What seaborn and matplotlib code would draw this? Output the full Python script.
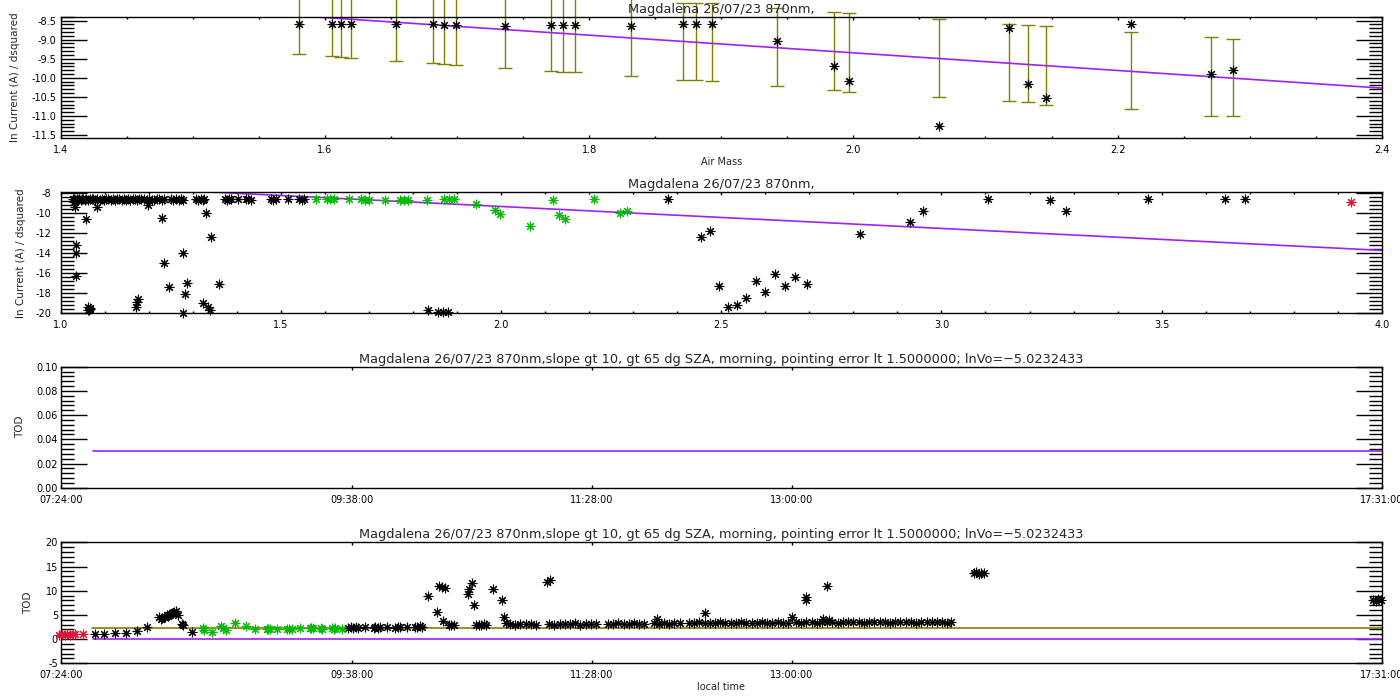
import pandas as pd
import seaborn as sns
import matplotlib.pyplot as plt
from matplotlib.ticker import MultipleLocator, FormatStrFormatter, FixedLocator

# ---------------- data ----------------
# selected points (green in panel 2), with error bars in panel 1
am_sel = [1.580, 1.605, 1.612, 1.620, 1.654, 1.682, 1.690, 1.699, 1.736, 1.771,
          1.780, 1.789, 1.832, 1.871, 1.881, 1.893, 1.942, 1.985, 1.997, 2.065,
          2.118, 2.132, 2.146, 2.210, 2.271, 2.287]
lnI_sel = [-8.59, -8.59, -8.59, -8.59, -8.59, -8.59, -8.61, -8.61, -8.64, -8.61,
           -8.61, -8.61, -8.64, -8.59, -8.59, -8.59, -9.03, -9.69, -10.08, -11.26,
           -8.70, -10.17, -10.54, -8.59, -9.91, -9.80]
err_lo = [-9.38, -9.44, -9.46, -9.49, -9.57, -9.62, -9.65, -9.67, -9.75, -9.83,
          -9.86, -9.86, -9.96, -10.07, -10.07, -10.08, -10.22, -10.33, -10.36, -10.51,
          -10.62, -10.64, -10.70, -10.83, -10.99, -11.01]
err_hi = [-7.33, -7.39, -7.41, -7.44, -7.52, -7.57, -7.60, -7.62, -7.70, -7.78,
          -7.81, -7.81, -7.91, -8.03, -8.03, -8.03, -8.18, -8.28, -8.31, -8.47,
          -8.60, -8.62, -8.65, -8.81, -8.94, -8.99]
fit1_am = [1.596, 2.400]
fit1_ln = [-8.41, -10.27]

# all other points of the day (black in panel 2)
all_am = [1.027, 1.030, 1.033, 1.036, 1.039, 1.042, 1.045, 1.048, 1.051, 1.054,
          1.058, 1.062, 1.066, 1.070, 1.074, 1.078, 1.083, 1.088, 1.093, 1.098,
          1.103, 1.108, 1.113, 1.118, 1.123, 1.128, 1.133, 1.138, 1.143, 1.148,
          1.153, 1.158, 1.163, 1.168, 1.173, 1.178, 1.182, 1.190, 1.196, 1.201,
          1.207, 1.212, 1.218, 1.224, 1.229, 1.234, 1.250, 1.256, 1.262, 1.268,
          1.273, 1.277, 1.307, 1.312, 1.318, 1.322, 1.326, 1.372, 1.377, 1.382,
          1.387, 1.402, 1.421, 1.426, 1.432, 1.478, 1.483, 1.489, 1.516, 1.542,
          1.547, 1.553,
          1.030, 1.032, 1.034, 1.034, 1.034, 1.057, 1.062, 1.064, 1.067, 1.062,
          1.066, 1.082, 1.171, 1.173, 1.175, 1.197, 1.229, 1.234, 1.245, 1.277,
          1.277, 1.286, 1.282, 1.324, 1.330, 1.335, 1.339, 1.341, 1.360, 1.834,
          1.857, 1.868, 1.880, 2.380, 2.455, 2.474, 2.494, 2.515, 2.536, 2.556,
          2.579, 2.600, 2.621, 2.644, 2.667, 2.695, 2.816, 2.929, 2.957, 3.106,
          3.246, 3.283, 3.470, 3.645, 3.690]
all_ln = [-8.60, -8.52, -8.66, -8.58, -8.62, -8.55, -8.68, -8.60, -8.54, -8.63,
          -8.57, -8.65, -8.52, -8.60, -8.58, -8.64, -8.55, -8.61, -8.57, -8.66,
          -8.53, -8.60, -8.62, -8.56, -8.64, -8.58, -8.52, -8.61, -8.59, -8.65,
          -8.55, -8.62, -8.58, -8.60, -8.66, -8.54, -8.60, -8.58, -8.63, -8.55,
          -8.61, -8.66, -8.57, -8.60, -8.64, -8.56, -8.58, -8.64, -8.55, -8.62,
          -8.60, -8.66, -8.59, -8.65, -8.56, -8.62, -8.60, -8.57, -8.64, -8.60,
          -8.55, -8.52, -8.60, -8.55, -8.63, -8.58, -8.62, -8.56, -8.60, -8.57,
          -8.63, -8.60,
          -8.90, -9.40, -13.17, -13.93, -16.27, -10.60, -19.40, -19.67, -19.45, -19.70,
          -19.55, -9.40, -19.40, -18.83, -18.60, -9.17, -10.50, -14.93, -17.40, -13.93,
          -19.93, -17.00, -18.10, -18.93, -9.93, -19.40, -19.67, -12.40, -17.07, -19.67,
          -19.83, -19.83, -19.83, -8.60, -12.40, -11.80, -17.23, -19.40, -19.17, -18.50,
          -16.77, -17.83, -16.07, -17.23, -16.33, -17.07, -12.10, -10.83, -9.77, -8.60,
          -8.67, -9.73, -8.60, -8.60, -8.60]
red_am = [3.929]
red_ln = [-8.90]
fit2_am = [1.36, 4.00]
fit2_ln = [-7.90, -13.70]

# TOD against local time (decimal hours)
red_t = [7.39, 7.41, 7.43, 7.45, 7.47, 7.49, 7.51, 7.57]
red_tod = [0.9, 1.1, 0.8, 1.0, 0.9, 1.1, 1.0, 1.0]
grn_t = [8.488, 8.500, 8.557, 8.625, 8.640, 8.666, 8.735, 8.819, 8.888, 8.978,
         8.990, 9.000, 9.054, 9.136, 9.150, 9.169, 9.233, 9.305, 9.320, 9.335,
         9.391, 9.400, 9.476, 9.490, 9.501, 9.552]
grn_tod = [2.22, 1.90, 1.54, 2.71, 2.40, 1.88, 3.25, 2.71, 2.02, 2.02,
           2.10, 2.02, 2.02, 2.02, 2.10, 2.02, 2.22, 2.22, 2.30, 2.22,
           2.22, 2.10, 2.22, 2.10, 2.22, 2.02]
blk_t = [7.663, 7.732, 7.816, 7.900, 7.982, 8.059, 8.156, 8.170, 8.179, 8.190,
         8.199, 8.210, 8.220, 8.230, 8.237, 8.250, 8.260, 8.268, 8.283, 8.300,
         8.327, 8.335, 8.403,
         9.60, 9.62, 9.64, 9.66, 9.68, 9.73, 9.795, 9.81, 9.83, 9.846,
         9.897, 9.96, 9.98, 10.00, 10.05, 10.11, 10.13, 10.15, 10.17,
         10.216, 10.28, 10.30, 10.32, 10.345, 10.33, 10.37, 10.39, 10.41,
         10.515, 10.529, 10.548, 10.564, 10.58, 10.60, 10.62, 10.64, 10.66,
         10.708, 10.778, 10.797, 10.81,
         10.84, 10.88, 10.92, 10.96, 11.00, 11.04,
         11.127, 11.147, 11.14, 11.18, 11.22, 11.26, 11.30, 11.34, 11.38, 11.42,
         11.46, 11.50, 11.59, 11.63, 11.67, 11.71, 11.75, 11.79, 11.83, 11.87,
         11.966, 11.94, 11.98, 12.02, 12.06, 12.10, 12.14,
         12.336, 12.21, 12.25, 12.29, 12.33, 12.37, 12.41, 12.45, 12.49, 12.53,
         12.57, 12.61, 12.65, 12.69, 12.73, 12.77, 12.81, 12.85, 12.89, 12.93,
         12.97, 12.998, 13.106, 13.11, 13.27, 13.24, 13.28,
         13.03, 13.07, 13.11, 13.15, 13.19, 13.23, 13.27, 13.31, 13.35, 13.39,
         13.43, 13.47, 13.51, 13.55, 13.59, 13.63, 13.67, 13.71, 13.75, 13.79,
         13.83, 13.87, 13.91, 13.95, 13.99, 14.03, 14.07, 14.11, 14.15, 14.19,
         14.22, 14.39, 14.41, 14.43, 14.45, 14.47, 17.45, 17.47, 17.49, 17.51]
blk_tod = [1.00, 1.00, 1.33, 1.19, 1.74, 2.57, 4.50, 4.20, 4.30, 4.60,
           4.64, 4.90, 4.78, 5.00, 5.12, 5.33, 5.50, 5.67, 5.90, 4.98,
           3.12, 2.90, 1.54,
           2.40, 2.50, 2.30, 2.45, 2.40, 2.50, 2.40, 2.55, 2.40, 2.50,
           2.45, 2.40, 2.50, 2.45, 2.55, 2.60, 2.50, 2.65, 2.55,
           8.90, 5.68, 10.99, 10.85, 10.50, 3.80, 2.90, 3.00, 2.85,
           9.32, 10.28, 11.66, 7.05, 2.93, 3.00, 2.90, 3.05, 2.95,
           10.28, 8.08, 4.64, 3.30,
           3.20, 3.00, 3.10, 3.20, 3.10, 3.00,
           11.87, 12.21, 3.10, 3.00, 3.20, 3.10, 3.10, 3.30, 3.00, 3.20,
           3.10, 3.20, 3.20, 3.10, 3.30, 3.20, 3.10, 3.30, 3.20, 3.20,
           4.10, 3.30, 3.20, 3.40, 3.20, 3.30, 3.30,
           5.46, 3.40, 3.30, 3.50, 3.40, 3.30, 3.40, 3.50, 3.40, 3.30,
           3.40, 3.50, 3.40, 3.40, 3.30, 3.50, 3.40, 3.40, 3.50, 3.30,
           3.40, 4.64, 8.77, 8.08, 10.97, 4.10, 4.00,
           3.50, 3.40, 3.60, 3.50, 3.40, 3.60, 3.50, 3.50, 3.40, 3.60,
           3.50, 3.50, 3.60, 3.40, 3.50, 3.50, 3.60, 3.50, 3.40, 3.50,
           3.60, 3.50, 3.50, 3.40, 3.60, 3.50, 3.50, 3.60, 3.50, 3.40,
           3.50, 13.60, 13.80, 13.50, 13.70, 13.60, 8.10, 7.90, 8.20, 8.00]
tod_fit_t = [7.65, 17.52]
tod_fit = [0.03, 0.03]
tod_ref_t = [7.64, 17.52]
tod_ref = [2.22, 2.22]

time_ticks = ["07:24:00", "09:38:00", "11:28:00", "13:00:00", "17:31:00"]

title_am = "Magdalena 26/07/23 870nm,"
title_tod = ("Magdalena 26/07/23 870nm,slope gt 10, gt 65 dg SZA, morning, "
             "pointing error lt 1.5000000; lnVo=\u22125.0232433")

# ---------------- styling ----------------
sns.set_style("ticks")
plt.rcParams['font.family'] = ['DejaVu Sans']
plt.rcParams['axes.linewidth'] = 1.0

PURPLE = '#a020f0'
OLIVE = '#808000'
GREEN = '#00bb00'
RED = '#e0103a'
STAR = (8, 2, 0)

def hours(s):
    return pd.to_timedelta(s).total_seconds() / 3600.0

tick_hours = [hours(s) for s in time_ticks]

fig = plt.figure(figsize=(14, 7), dpi=100)
left, width, height = 0.0434, 0.9436, 0.1727
ax1 = fig.add_axes([left, 0.8033, width, height])
ax2 = fig.add_axes([left, 0.5524, width, height])
ax3 = fig.add_axes([left, 0.3033, width, height])
ax4 = fig.add_axes([left, 0.0524, width, height])

def stars(ax, x, y, color):
    sns.scatterplot(x=x, y=y, ax=ax, marker=STAR, color=color, s=40,
                    linewidth=0.8, legend=False, clip_on=False, zorder=3)

def style(ax, ymaj, ymin, yfmt, ypad):
    ax.yaxis.set_major_locator(MultipleLocator(ymaj))
    ax.yaxis.set_minor_locator(MultipleLocator(ymin))
    ax.yaxis.set_major_formatter(FormatStrFormatter(yfmt))
    for sp in ax.spines.values():
        sp.set_visible(True)
        sp.set_color('k')
        sp.set_linewidth(1.0)
    ax.tick_params(which='both', direction='in', top=True, right=True,
                   left=True, bottom=True, color='k', labelcolor='k',
                   labelsize=7, width=1.0)
    ax.tick_params(axis='y', which='major', length=18.5, pad=ypad)
    ax.tick_params(axis='y', which='minor', length=9.3)
    ax.tick_params(axis='x', which='major', length=2.5, pad=5)
    ax.tick_params(axis='x', which='minor', length=1.3)

# ---- panel 1: selected points with error bars ----
mid = [(lo + hi) / 2 for lo, hi in zip(err_lo, err_hi)]
half = [(hi - lo) / 2 for lo, hi in zip(err_lo, err_hi)]
ax1.errorbar(am_sel, mid, yerr=half, fmt='none', ecolor=OLIVE, elinewidth=1.0,
             capsize=5, capthick=1.0, clip_on=False, zorder=2)
stars(ax1, am_sel, lnI_sel, 'k')
sns.lineplot(x=fit1_am, y=fit1_ln, ax=ax1, color=PURPLE, linewidth=1.2)
ax1.set_xlim(1.4, 2.4)
ax1.set_ylim(-11.57, -8.40)
ax1.xaxis.set_major_locator(MultipleLocator(0.2))
ax1.xaxis.set_minor_locator(MultipleLocator(0.05))
ax1.xaxis.set_major_formatter(FormatStrFormatter('%.1f'))
style(ax1, 0.5, 0.1, '%.1f', 3)
ax1.set_title(title_am, fontsize=9.3, pad=3)
ax1.set_xlabel("Air Mass", fontsize=7, labelpad=1.5)
ax1.set_ylabel("ln Current (A) / dsquared", fontsize=7.5)
ax1.yaxis.set_label_coords(-0.031, 0.5)

# ---- panel 2: all points of the day ----
stars(ax2, all_am, all_ln, 'k')
stars(ax2, am_sel, lnI_sel, GREEN)
stars(ax2, red_am, red_ln, RED)
sns.lineplot(x=fit2_am, y=fit2_ln, ax=ax2, color=PURPLE, linewidth=1.2)
ax2.set_xlim(1.0, 4.0)
ax2.set_ylim(-20.0, -7.9)
ax2.xaxis.set_major_locator(MultipleLocator(0.5))
ax2.xaxis.set_minor_locator(MultipleLocator(0.1))
ax2.xaxis.set_major_formatter(FormatStrFormatter('%.1f'))
style(ax2, 2, 0.4, '%d', 7)
ax2.set_title(title_am, fontsize=9.3, pad=3)
ax2.set_xlabel("")
ax2.set_ylabel("ln Current (A) / dsquared", fontsize=7.5)
ax2.yaxis.set_label_coords(-0.0265, 0.5)

# ---- panel 3: TOD, small range ----
sns.lineplot(x=tod_fit_t, y=tod_fit, ax=ax3, color=PURPLE, linewidth=1.2)
ax3.set_ylim(0, 0.10)
style(ax3, 0.02, 0.004, '%.2f', 2)
ax3.set_title(title_tod, fontsize=9.3, pad=3)
ax3.set_ylabel("TOD", fontsize=7.5)
ax3.yaxis.set_label_coords(-0.027, 0.5)

# ---- panel 4: TOD, full range ----
stars(ax4, blk_t, blk_tod, 'k')
stars(ax4, grn_t, grn_tod, GREEN)
stars(ax4, red_t, red_tod, RED)
sns.lineplot(x=tod_ref_t, y=tod_ref, ax=ax4, color=OLIVE, linewidth=1.2)
sns.lineplot(x=tod_fit_t, y=tod_fit, ax=ax4, color=PURPLE, linewidth=1.2)
ax4.set_ylim(-5, 20)
style(ax4, 5, 1, '%d', 2)
ax4.set_title(title_tod, fontsize=9.3, pad=3)
ax4.set_xlabel("local time", fontsize=7, labelpad=1.5)
ax4.set_ylabel("TOD", fontsize=7.5)
ax4.yaxis.set_label_coords(-0.0207, 0.5)

for ax in (ax3, ax4):
    ax.set_xlim(tick_hours[0], tick_hours[-1])
    ax.xaxis.set_major_locator(FixedLocator(tick_hours))
    ax.set_xticklabels(time_ticks)
    ax.xaxis.set_minor_locator(FixedLocator([]))
ax3.set_xlabel("")

fig.savefig("out.png", dpi=100)
